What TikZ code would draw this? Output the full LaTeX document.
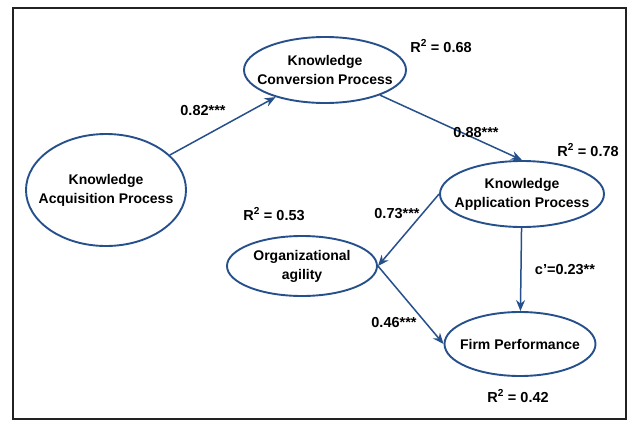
\documentclass[tikz,border=0pt]{standalone}
\usepackage{fontspec}
\setmainfont{Liberation Sans}
\usepackage{tikz}
\usetikzlibrary{arrows.meta,shapes.geometric}
\definecolor{pathC}{HTML}{26508C}
\definecolor{frameC}{HTML}{222222}
\newcommand{\lblKap}{Knowledge\\Acquisition Process}
\newcommand{\lblKcp}{Knowledge\\Conversion Process}
\newcommand{\lblKapp}{Knowledge\\Application Process}
\newcommand{\lblOa}{Organizational\\agility}
\newcommand{\lblFp}{Firm Performance}
\newcommand{\rsq}[1]{R\textsuperscript{2} = #1}

\begin{document}
\begin{tikzpicture}[
  x=1pt, y=-1pt,
  font=\fontsize{14}{19}\selectfont\bfseries,
  >={Stealth[length=11pt, width=9pt]},
  construct/.style={ellipse, draw=pathC, line width=1.9pt, inner sep=0pt},
  ctext/.style    ={inner sep=0pt, align=center},
  link/.style     ={->, draw=pathC, line width=1.5pt},
  coef/.style     ={font=\fontsize{14.5}{17}\selectfont\bfseries, inner sep=0pt},
  frame/.style    ={draw=frameC, line width=1.2pt},
]

% ---- page and frame --------------------------------------------------------
\useasboundingbox (0,0) rectangle (630,429);
\draw[frame] (13,8) rectangle (626,419);

% ---- constructs ------------------------------------------------------------
\node[construct, minimum width=160pt, minimum height=112pt] (kap)  at (106,190) {};
\node[construct, minimum width=162pt, minimum height=66pt]  (kcp)  at (325,70)  {};
\node[construct, minimum width=164pt, minimum height=66pt]  (kapp) at (522,194) {};
\node[construct, minimum width=150pt, minimum height=60pt]  (oa)   at (302,266) {};
\node[construct, minimum width=151pt, minimum height=64pt]  (fp)   at (520,344) {};

\node[ctext] (kapT)  at (kap)  {\lblKap};
\node[ctext] (kcpT)  at (kcp)  {\lblKcp};
\node[ctext] (kappT) at (kapp) {\lblKapp};
\node[ctext] (oaT)   at (oa)   {\lblOa};
\node[ctext] (fpT)   at (fp)   {\lblFp};

% ---- paths -----------------------------------------------------------------
\draw[link] (kap)       -- (kcp);
\draw[link] (kcp)       -- (kapp.north);
\draw[link] (kapp.west) -- (oa.east);
\draw[link] (oa.east)   -- (fp.west);
\draw[link] (kapp)      -- (fp);          % direct effect

% ---- coefficients ----------------------------------------------------------
\node[coef] (bKap)  at (203,111) {0.82***};
\node[coef] (bKcp)  at (476,133) {0.88***};
\node[coef] (bKapp) at (397,214) {0.73***};
\node[coef] (bOa)   at (394,323) {0.46***};
\node[coef] (bDir)  at (565,270) {c’=0.23**};

% ---- explained variance ----------------------------------------------------
\node[coef] (rKcp)  at (441,46)  {\rsq{0.68}};
\node[coef] (rKapp) at (588,150) {\rsq{0.78}};
\node[coef] (rOa)   at (274,214) {\rsq{0.53}};
\node[coef] (rFp)   at (518,396) {\rsq{0.42}};

\end{tikzpicture}
\end{document}
